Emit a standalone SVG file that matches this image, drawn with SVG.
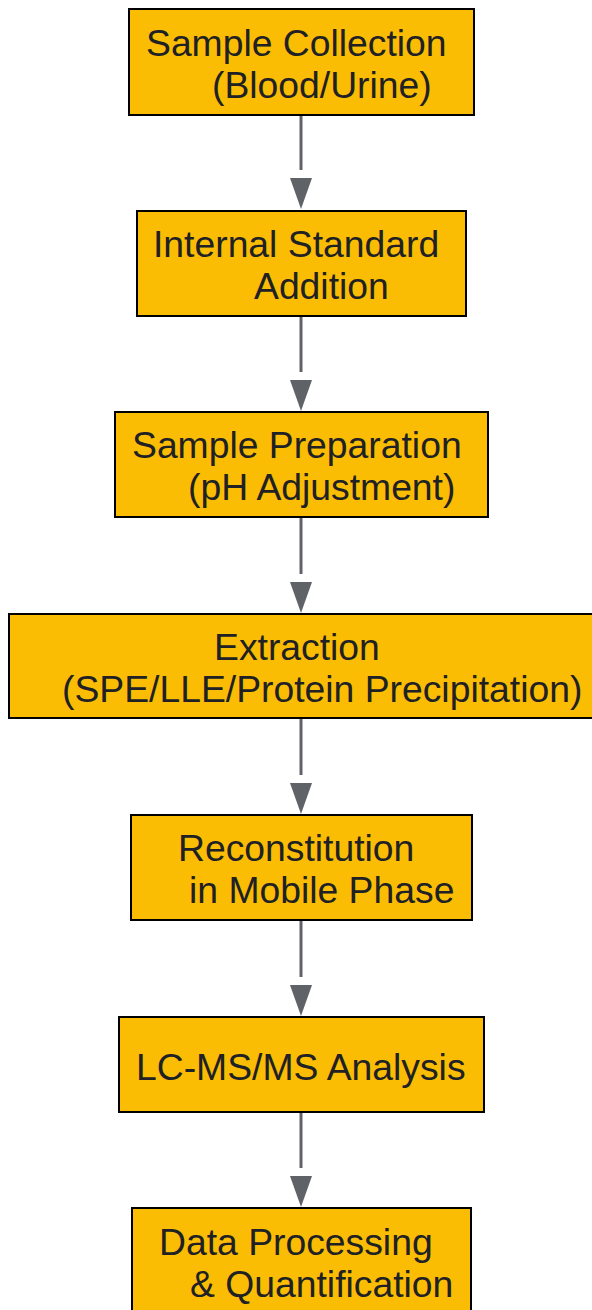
<svg xmlns="http://www.w3.org/2000/svg" width="592" height="1310" viewBox="0 0 592 1310">
<defs>
<style>
.box{fill:#FBBC04;stroke:#000;stroke-width:2}
.t{font-family:"Liberation Sans",Arial,sans-serif;font-size:37.3px;fill:#202124}
.edge{stroke:#5f6368;stroke-width:3;fill:none}
.head{fill:#5f6368}
</style>
</defs>
<rect width="592" height="1310" fill="#fff"/>
<g id="connectors">
<line class="edge" x1="301" y1="115" x2="301" y2="170"/>
<path class="head" d="M290,178 L312,178 L301,209 Z"/>
<line class="edge" x1="301" y1="316" x2="301" y2="372"/>
<path class="head" d="M290,380 L312,380 L301,411 Z"/>
<line class="edge" x1="301" y1="517" x2="301" y2="574"/>
<path class="head" d="M290,582 L312,582 L301,613 Z"/>
<line class="edge" x1="301" y1="718" x2="301" y2="775"/>
<path class="head" d="M290,783 L312,783 L301,814 Z"/>
<line class="edge" x1="301" y1="920" x2="301" y2="977"/>
<path class="head" d="M290,985 L312,985 L301,1016 Z"/>
<line class="edge" x1="301" y1="1112" x2="301" y2="1168"/>
<path class="head" d="M290,1176 L312,1176 L301,1207 Z"/>
</g>
<g id="n1">
<rect class="box" x="129" y="9" width="345" height="106"/>
<text class="t" x="146" y="56">Sample Collection</text>
<text class="t" x="212" y="98">(Blood/Urine)</text>
</g>
<g id="n2">
<rect class="box" x="137" y="211" width="329" height="105"/>
<text class="t" x="153" y="257">Internal Standard</text>
<text class="t" x="254" y="299">Addition</text>
</g>
<g id="n3">
<rect class="box" x="115" y="412" width="373" height="105"/>
<text class="t" x="132" y="458">Sample Preparation</text>
<text class="t" x="188" y="500">(pH Adjustment)</text>
</g>
<g id="n4">
<rect class="box" x="9" y="614" width="590" height="104"/>
<text class="t" x="214" y="660">Extraction</text>
<text class="t" x="62" y="702">(SPE/LLE/Protein Precipitation)</text>
</g>
<g id="n5">
<rect class="box" x="131" y="815" width="341" height="105"/>
<text class="t" x="178" y="861">Reconstitution</text>
<text class="t" x="189" y="903">in Mobile Phase</text>
</g>
<g id="n6">
<rect class="box" x="119" y="1017" width="365" height="95"/>
<text class="t" x="136" y="1080">LC-MS/MS Analysis</text>
</g>
<g id="n7">
<rect class="box" x="132" y="1208" width="339" height="110"/>
<text class="t" x="159" y="1255">Data Processing</text>
<text class="t" x="190" y="1297">&amp; Quantification</text>
</g>
</svg>
